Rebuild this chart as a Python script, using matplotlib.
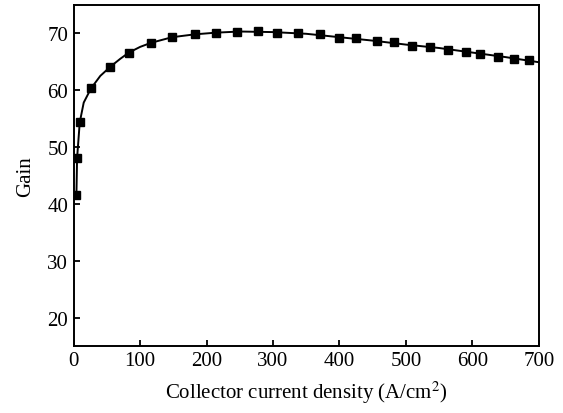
import numpy as np
import matplotlib
matplotlib.use('Agg')
import matplotlib.pyplot as plt

# measured points
current = [4, 5, 9, 26, 55, 83, 116, 148, 182, 214, 245, 277, 306, 338, 370,
           399, 425, 456, 482, 509, 536, 563, 591, 612, 638, 662, 685]
gain = [41.5, 48.0, 54.3, 60.3, 64.1, 66.6, 68.3, 69.4, 69.8, 70.0, 70.3, 70.4,
        70.1, 70.1, 69.8, 69.2, 69.1, 68.6, 68.4, 67.8, 67.6, 67.1, 66.7, 66.3,
        65.8, 65.5, 65.3]

# fitted curve
fit_x = [4, 5, 9, 15, 26, 40, 55, 70, 83, 100, 116, 148, 182, 214, 250, 300,
         350, 400, 450, 500, 550, 600, 650, 700]
fit_y = [41.5, 48.0, 54.3, 57.8, 60.3, 62.5, 64.1, 65.5, 66.6, 67.6, 68.3, 69.3,
         69.8, 70.1, 70.3, 70.2, 69.9, 69.3, 68.7, 68.0, 67.4, 66.6, 65.8, 64.9]

plt.rcParams['font.family'] = ['Liberation Serif', 'DejaVu Serif']
plt.rcParams['mathtext.fontset'] = 'stix'

fig = plt.figure(figsize=(5.63, 4.14), dpi=100)
ax = fig.add_axes([0.131, 0.162, 0.826, 0.824])

ax.plot(fit_x, fit_y, 'k-', lw=1.4)
ax.plot(current, gain, 'ks', ms=6, ls='none')

ax.set_xlim(0, 700)
ax.set_ylim(15, 75)
ax.set_xticks(np.arange(0, 701, 100))
ax.set_yticks(np.arange(20, 71, 10))
ax.tick_params(direction='in', length=4, width=1.3, labelsize=15, pad=4,
               top=False, right=False)
for s in ax.spines.values():
    s.set_linewidth(1.4)

ax.set_xlabel('Collector current density (A/cm$^2$)', fontsize=15, labelpad=6)
ax.set_ylabel('Gain', fontsize=15, labelpad=9)

plt.savefig('out.png', dpi=100)
